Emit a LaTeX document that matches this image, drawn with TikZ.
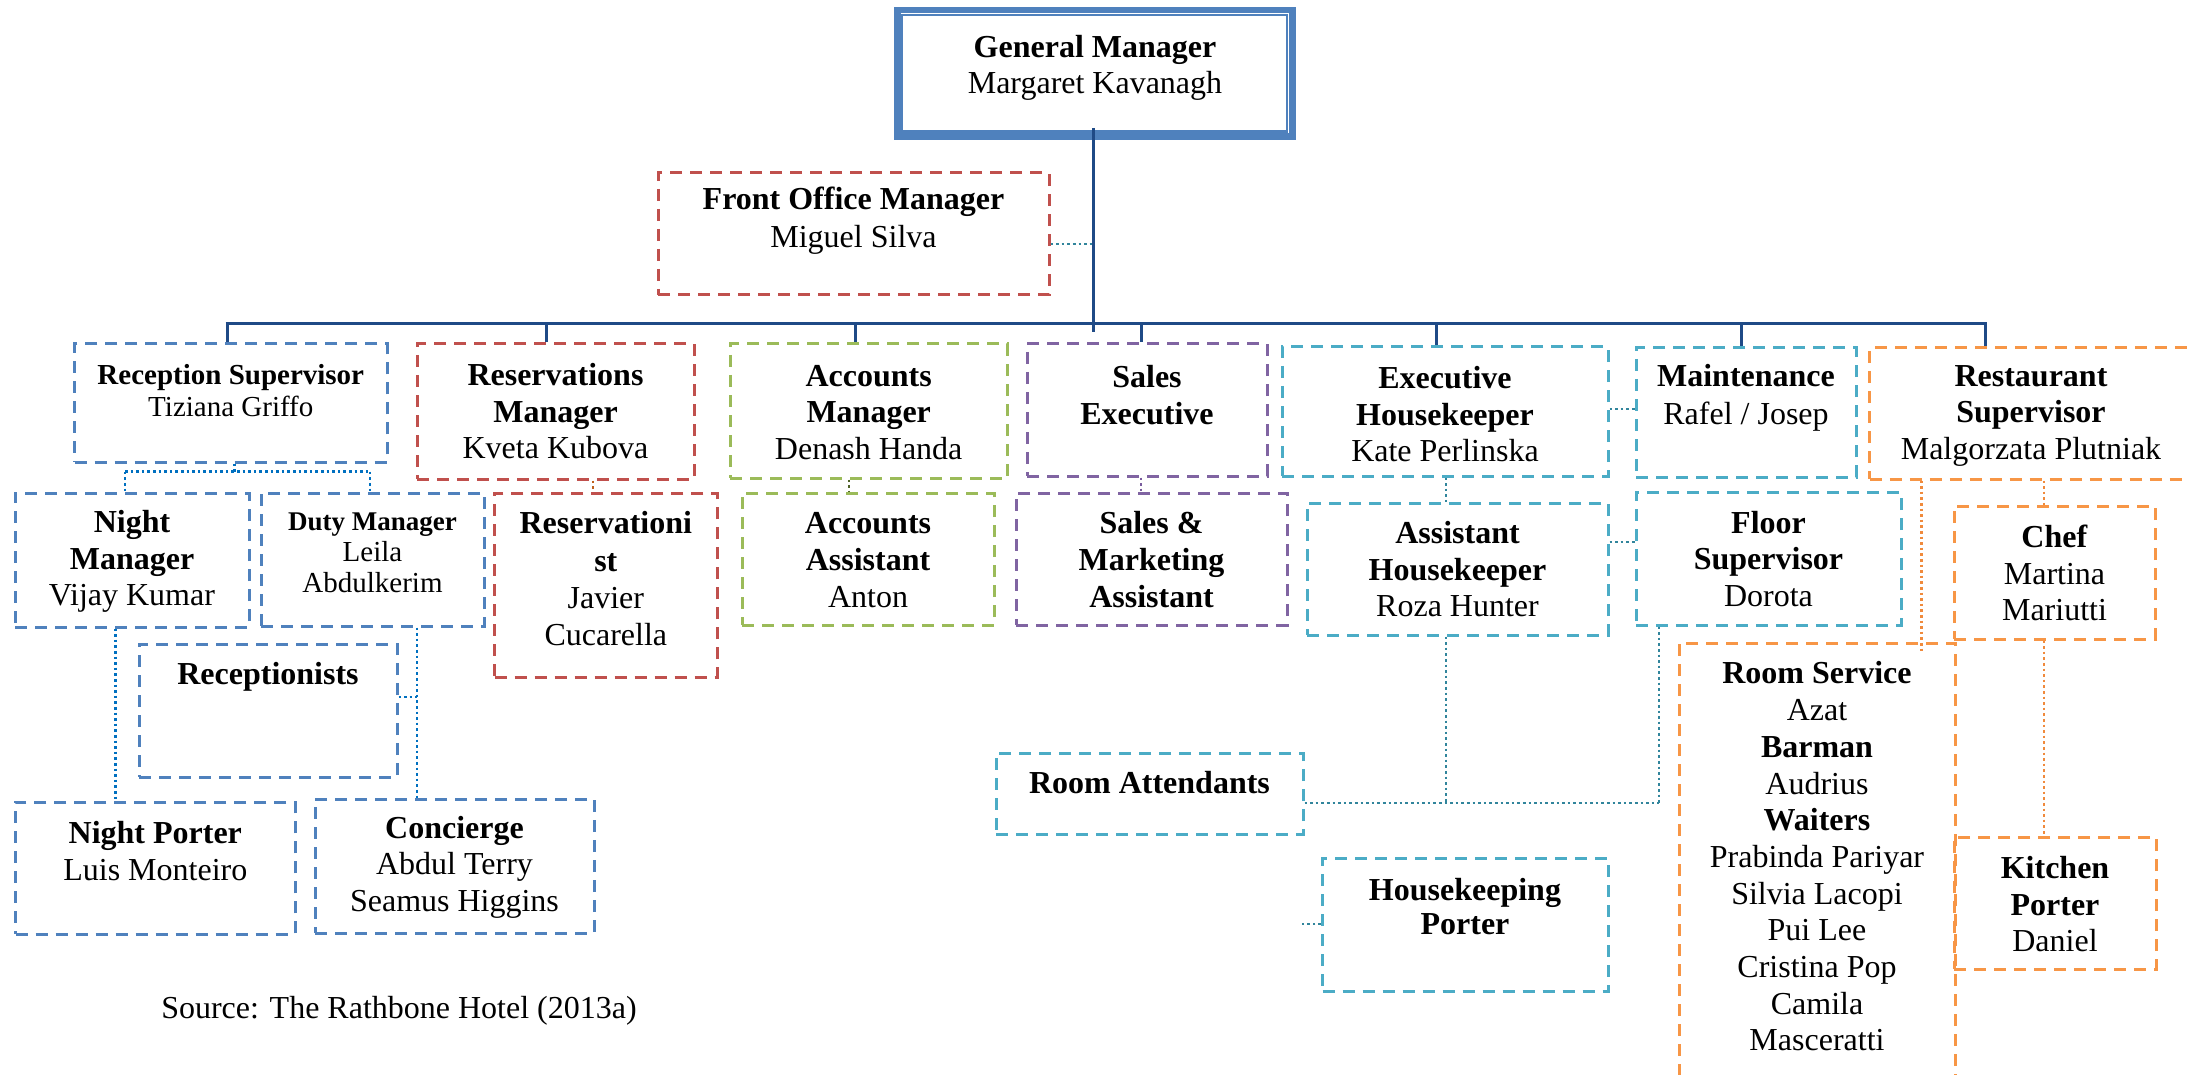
\documentclass[tikz,border=0pt]{standalone}
\usepackage{fontspec}
\setmainfont{Liberation Serif}
\usetikzlibrary{fit}
\definecolor{gmblue}{HTML}{4F81BD}
\definecolor{trunkblue}{HTML}{1F4A86}
\definecolor{cblue}{HTML}{4F81BD}
\definecolor{cred}{HTML}{C0504D}
\definecolor{cgreen}{HTML}{9BBB59}
\definecolor{cpurple}{HTML}{8064A2}
\definecolor{cteal}{HTML}{4BACC6}
\definecolor{corange}{HTML}{F79646}
\definecolor{dblue}{HTML}{0070C0}
\definecolor{dteal}{HTML}{31859C}
\definecolor{dbrown}{HTML}{C0601E}
\definecolor{dolive}{HTML}{4F6228}
\definecolor{dpurple}{HTML}{7A5C9E}
\definecolor{dorange}{HTML}{F08A3C}
\begin{document}
\begin{tikzpicture}[x=1pt,y=-1pt,
  box/.style={inner sep=0pt, line width=3pt, dash pattern=on 12pt off 8pt},
  tx/.style={align=center, inner sep=0pt, font=\fontsize{32}{36.5}\selectfont},
  trunk/.style={draw=trunkblue, line width=3pt},
  dotl/.style={line width=2.6pt, dash pattern=on 2.6pt off 3pt}]

\fill[white] (0,0) rectangle (2188,1075);
\useasboundingbox (0,0) rectangle (2188,1075);

% ---- General Manager (thick-thin double frame)
\node[inner sep=0pt, draw=gmblue, line width=6.7pt, fit={(897.3,10) (1292.7,136.7)}] (gm) {};
\draw[gmblue, line width=2.4pt] ([shift={(7.7,8.5)}]gm.north west) rectangle ([shift={(-9.2,-8.7)}]gm.south east);
\node[tx, font=\fontsize{32}{36}\selectfont] (gmT) at (1095,68) {\textbf{General Manager}\\Margaret Kavanagh};

% ---- Front Office Manager
\node[box, draw=cred, fit={(658,173) (1049,295)}] (fom) {};
\node[tx, font=\fontsize{32}{38}\selectfont] (fomT) at (853.5,221) {\textbf{Front Office Manager}\\Miguel Silva};

% ---- first row
\node[box, draw=cblue, fit={(74.6,344) (387,462)}] (rs) {};
\node[tx, font=\fontsize{29}{32}\selectfont] (rsT) at (230.8,391) {\textbf{Reception Supervisor}\\Tiziana Griffo};

\node[box, draw=cred, fit={(417,344) (694,479)}] (resm) {};
\node[tx] (resmT) at (555.5,411.5) {\textbf{Reservations}\\\textbf{Manager}\\Kveta Kubova};

\node[box, draw=cgreen, fit={(730,344) (1007.5,478)}] (accm) {};
\node[tx] (accmT) at (868.7,412.5) {\textbf{Accounts}\\\textbf{Manager}\\Denash Handa};

\node[box, draw=cpurple, fit={(1027,344) (1267,476)}] (sexe) {};
\node[tx] (sexeT) at (1147,395) {\textbf{Sales}\\\textbf{Executive}};

\node[box, draw=cteal, fit={(1282,347) (1608,476)}] (exhk) {};
\node[tx] (exhkT) at (1445,414.5) {\textbf{Executive}\\\textbf{Housekeeper}\\Kate Perlinska};

\node[box, draw=cteal, fit={(1636,348) (1856,477)}] (maint) {};
\node[tx, font=\fontsize{32}{38}\selectfont] (maintT) at (1746,398) {\textbf{Maintenance}\\Rafel / Josep};

\node[box, draw=corange, fit={(1869.5,348) (2192.5,479)}] (rsup) {};
\node[tx] (rsupT) at (2031,415.5) {\textbf{Restaurant}\\\textbf{Supervisor}\\Malgorzata Plutniak};

% ---- second row
\node[box, draw=cblue, fit={(15,493) (249,627)}] (nm) {};
\node[tx] (nmT) at (132,561.5) {\textbf{Night}\\\textbf{Manager}\\Vijay Kumar};

\node[box, draw=cblue, fit={(261,493) (484,626)}] (dm) {};
\node[tx, font=\fontsize{29}{31}\selectfont] (dmT) at (372.5,553) {{\fontsize{27}{31}\selectfont\textbf{Duty Manager}}\\Leila\\Abdulkerim};

\node[box, draw=cred, fit={(494.6,493) (717,677)}] (resist) {};
\node[tx, font=\fontsize{32}{37.3}\selectfont] (resistT) at (605.8,579) {\textbf{Reservationi}\\\textbf{st}\\Javier\\Cucarella};

\node[box, draw=cgreen, fit={(742,493) (994,625)}] (acca) {};
\node[tx, font=\fontsize{32}{37}\selectfont] (accaT) at (868,560) {\textbf{Accounts}\\\textbf{Assistant}\\Anton};

\node[box, draw=cpurple, fit={(1016,493) (1287,625)}] (sma) {};
\node[tx, font=\fontsize{32}{37}\selectfont] (smaT) at (1151.5,560) {\textbf{Sales \&}\\\textbf{Marketing}\\\textbf{Assistant}};

\node[box, draw=cteal, fit={(1307,503) (1608,635)}] (ahk) {};
\node[tx] (ahkT) at (1457.5,569.5) {\textbf{Assistant}\\\textbf{Housekeeper}\\Roza Hunter};

\node[box, draw=cteal, fit={(1636,492) (1901,625)}] (fs) {};
\node[tx] (fsT) at (1768.5,559) {\textbf{Floor}\\\textbf{Supervisor}\\Dorota};

\node[box, draw=corange, fit={(1954,506) (2155,639)}] (chef) {};
\node[tx] (chefT) at (2054.5,573) {\textbf{Chef}\\Martina\\Mariutti};

% ---- lower boxes
\node[box, draw=cblue, fit={(139,644) (397,777)}] (recp) {};
\node[tx] (recpT) at (268,677) {\textbf{Receptionists}};

\node[box, draw=cblue, fit={(15.6,802) (295,934)}] (np) {};
\node[tx] (npT) at (155.3,851) {\textbf{Night Porter}\\Luis Monteiro};

\node[box, draw=cblue, fit={(315,799) (594,933)}] (conc) {};
\node[tx] (concT) at (454.5,867) {\textbf{Concierge}\\Abdul Terry\\Seamus Higgins};

\node[box, draw=cteal, fit={(996,753) (1303,834)}] (ra) {};
\node[tx] (raT) at (1149.5,783) {\textbf{Room Attendants}};

\node[box, draw=cteal, fit={(1322.5,858) (1608,991)}] (hkp) {};
\node[tx, font=\fontsize{32}{34}\selectfont] (hkpT) at (1465,907) {\textbf{Housekeeping}\\\textbf{Porter}};

\node[box, draw=corange, fit={(1679,643) (1955,1110)}] (rserv) {};
\node[tx, font=\fontsize{32}{36.7}\selectfont] (rservT) at (1817,856.5) {\textbf{Room Service}\\Azat\\\textbf{Barman}\\Audrius\\\textbf{Waiters}\\Prabinda Pariyar\\Silvia Lacopi\\Pui Lee\\Cristina Pop\\Camila\\Masceratti};

\node[box, draw=corange, fit={(1954,837) (2156,969)}] (kp) {};
\node[tx] (kpT) at (2055,904.5) {\textbf{Kitchen}\\\textbf{Porter}\\Daniel};

\node[tx] (src) at (399,1011) {Source: The Rathbone Hotel (2013a)};

% ---- line-management tree
\coordinate (tTop) at (1093,128);
\coordinate (tBot) at (1093,332);
\coordinate (tFo) at (1093,244);
\coordinate (bL) at (227,324);
\coordinate (d2) at (546,324);
\coordinate (d3) at (855,324);
\coordinate (d4) at (1141,324);
\coordinate (d5) at (1436,324);
\coordinate (d6) at (1741,324);
\coordinate (bR) at (1985,324);

\draw[trunk] (tTop) -- (tBot);
\draw[trunk] ([xshift=-1.5pt]bL) -- ([xshift=1.5pt]bR);
\draw[trunk] (bL) -- (rs.north -| bL);
\draw[trunk] (d2) -- (resm.north -| d2);
\draw[trunk] (d3) -- (accm.north -| d3);
\draw[trunk] (d4) -- (sexe.north -| d4);
\draw[trunk] (d5) -- (exhk.north -| d5);
\draw[trunk] (d6) -- (maint.north -| d6);
\draw[trunk] (bR) -- (rsup.north -| bR);

% ---- dotted reporting links
\coordinate (rsj) at (234.5,471.7);
\coordinate (j1) at (125,471.7);
\coordinate (j2) at (370,471.7);
\coordinate (xnm) at (115.6,0);
\coordinate (xdm) at (417,0);
\coordinate (recJ) at (417,697);
\coordinate (xres) at (593,0);
\coordinate (xacc) at (849,0);
\coordinate (xsal) at (1141,0);
\coordinate (xhk) at (1446,0);
\coordinate (yem) at (0,409);
\coordinate (yaf) at (0,542);
\coordinate (raJ1) at (1446,803);
\coordinate (raJ2) at (1659,803);
\coordinate (hkStub) at (1301.5,924);
\coordinate (rsEnd) at (1921.5,652);
\coordinate (xch) at (2044,0);

\draw[dotl, dteal] (fom.east |- tFo) -- (tFo);
\draw[dotl, dblue] (rs.south -| rsj) -- (rsj);
\draw[dotl, dblue] (j1) -- (j2);
\draw[dotl, dblue] (j1) -- (nm.north -| j1);
\draw[dotl, dblue] (j2) -- (dm.north -| j2);
\draw[dotl, dblue] (nm.south -| xnm) -- (np.north -| xnm);
\draw[dotl, dblue] (dm.south -| xdm) -- (conc.north -| xdm);
\draw[dotl, dblue] (recp.east |- recJ) -- (recJ);
\draw[dotl, dbrown] (resm.south -| xres) -- (resist.north -| xres);
\draw[dotl, dolive] (accm.south -| xacc) -- (acca.north -| xacc);
\draw[dotl, dpurple] (sexe.south -| xsal) -- (sma.north -| xsal);
\draw[dotl, dteal] (exhk.east |- yem) -- (maint.west |- yem);
\draw[dotl, dteal] (exhk.south -| xhk) -- (ahk.north -| xhk);
\draw[dotl, dteal] (ahk.east |- yaf) -- (fs.west |- yaf);
\draw[dotl, dteal] (ahk.south -| raJ1) -- (raJ1);
\draw[dotl, dteal] (fs.south -| raJ2) -- (raJ2);
\draw[dotl, dteal] (ra.east |- raJ1) -- (raJ2);
\draw[dotl, dteal] (hkp.west |- hkStub) -- (hkStub);
\draw[dotl, dorange] (rsup.south -| rsEnd) -- (rsEnd);
\draw[dotl, dorange] (rsup.south -| xch) -- (chef.north -| xch);
\draw[dotl, dorange] (chef.south -| xch) -- (kp.north -| xch);

\end{tikzpicture}
\end{document}
